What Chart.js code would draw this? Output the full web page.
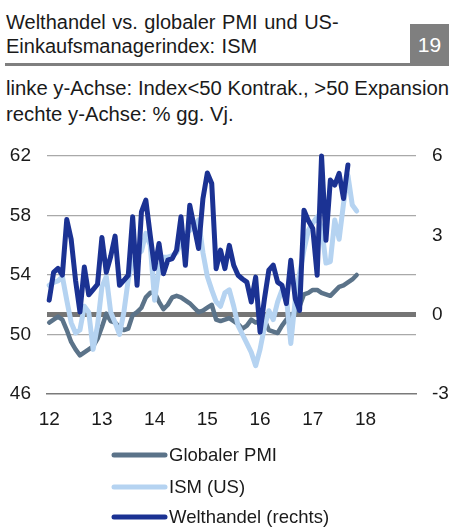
<!DOCTYPE html>
<html>
<head>
<meta charset="utf-8">
<script src="https://cdn.jsdelivr.net/npm/chart.js@4.4.1/dist/chart.umd.min.js"></script>
<style>
html,body{margin:0;padding:0;background:#fff;width:449px;height:528px;overflow:hidden;}
#wrap{position:relative;width:449px;height:528px;font-family:"Liberation Sans",Arial,sans-serif;color:#1a1a1a;}
.t{position:absolute;left:6px;white-space:nowrap;line-height:1;}
.title{font-size:20px;word-spacing:1px;}
.sub{font-size:20.3px;}
#rule{position:absolute;left:5px;top:63px;width:405px;height:3px;background:#7f7f7f;}
#box{position:absolute;left:410px;top:24px;width:39px;height:42px;background:#7f7f7f;color:#fff;font-size:21px;line-height:42px;text-align:center;}
canvas{position:absolute;left:0;top:0;}
</style>
</head>
<body>
<div id="wrap">
  <div class="t title" style="top:11.5px">Welthandel vs. globaler PMI und US-</div>
  <div class="t title" style="top:35.5px">Einkaufsmanagerindex: ISM</div>
  <div id="rule"></div>
  <div id="box">19</div>
  <div class="t sub" style="top:78px">linke y-Achse: Index&lt;50 Kontrak., &gt;50 Expansion</div>
  <div class="t sub" style="top:104px">rechte y-Achse: % gg. Vj.</div>
  <canvas id="c" width="449" height="528"></canvas>
</div>
<script>
// Months since Jan 2012 (index 0 = Jan 2012)
const yearLabels = ["12","13","14","15","16","17","18"];
const yearTickIdx = [0,12,24,36,48,60,72];

const seriesNames = ["Globaler PMI","ISM (US)","Welthandel (rechts)"];

// Globaler PMI (left axis), Jan 2012 – Nov 2017
const globalPMI = [
  50.8,51.0,51.2,51.0,50.3,49.5,49.0,48.6,48.8,49.0,49.2,49.7,
  50.5,51.4,50.9,50.8,50.5,50.3,50.4,51.3,51.5,51.8,52.5,52.8,
  52.8,52.2,51.7,52.0,52.5,52.6,52.5,52.3,52.1,51.8,51.5,51.6,
  51.8,52.0,51.0,50.9,51.0,51.1,50.9,50.7,50.4,50.6,51.0,50.8,
  50.9,51.0,50.3,50.2,50.1,50.6,51.0,51.3,51.5,51.9,52.7,52.8,
  53.0,53.0,52.8,52.7,52.6,52.9,53.2,53.3,53.5,53.7,54.0
];

// ISM (US) (left axis), Jan 2012 – Nov 2017
const ismUS = [
  53.3,53.5,53.6,53.9,52.3,50.8,50.1,50.3,51.9,51.5,49.0,50.6,
  53.2,53.9,51.5,50.8,50.0,51.5,53.7,55.0,55.4,55.6,56.8,56.0,
  52.3,54.5,55.2,55.2,55.3,55.5,56.2,56.8,57.0,57.25,57.7,55.5,
  53.9,53.0,52.2,51.9,52.8,53.0,51.9,50.6,50.0,49.4,48.8,47.9,
  49.0,50.5,51.6,51.0,52.2,53.0,52.5,49.4,52.3,54.1,55.7,57.0,
  57.5,57.9,57.2,54.8,54.9,57.7,56.4,58.8,60.7,58.7,58.3
];

// Welthandel % gg. Vj. (right axis), Jan 2012 – Sep 2017
const welthandel = [
  0.55,1.6,1.75,1.5,3.6,2.85,1.3,0.1,1.8,0.75,0.95,1.15,
  2.92,1.6,2.2,2.97,1.11,1.3,1.49,3.7,1.11,3.89,4.33,3.0,
  1.74,2.69,1.55,2.06,2.12,2.44,3.7,1.87,4.14,3.32,2.5,4.39,
  5.36,4.96,1.74,2.44,1.74,2.62,1.87,1.49,1.35,1.23,0.48,1.42,
  -0.66,0.6,1.68,1.87,1.23,1.11,0.42,2.06,0.61,0.16,3.95,3.55,
  3.26,1.49,6.0,2.81,5.09,4.9,5.34,4.39,5.66
];

const colors = ["#5b7389","#b5d3f1","#1b3293"];

const toXY = arr => arr.map((v,i)=>({x:i,y:v}));

const legendPlugin = {
  id:'stackedLegend',
  afterDraw(chart){
    const ctx = chart.ctx;
    const ds = chart.data.datasets;
    const rowsY = [455,487,517];
    ctx.save();
    [0,1,2].forEach((di,k)=>{
      const d = ds[di];
      const y = rowsY[k];
      ctx.strokeStyle = d.borderColor;
      ctx.lineWidth = 5;
      ctx.lineCap = 'round';
      ctx.beginPath();
      ctx.moveTo(114,y);
      ctx.lineTo(165,y);
      ctx.stroke();
      ctx.fillStyle = '#1a1a1a';
      ctx.font = '18.5px "Liberation Sans", Arial, sans-serif';
      ctx.textBaseline = 'middle';
      ctx.textAlign = 'left';
      ctx.fillText(d.label,169,y+1);
    });
    ctx.restore();
  }
};

const tickFont = {family:'"Liberation Sans", Arial, sans-serif', size:19};

new Chart(document.getElementById('c'),{
  type:'line',
  data:{
    datasets:[
      {label:seriesNames[0],data:toXY(globalPMI),yAxisID:'yL',borderColor:colors[0],backgroundColor:colors[0],borderWidth:4.5,order:2},
      {label:seriesNames[1],data:toXY(ismUS),yAxisID:'yL',borderColor:colors[1],backgroundColor:colors[1],borderWidth:5,order:1},
      {label:seriesNames[2],data:toXY(welthandel),yAxisID:'yR',borderColor:colors[2],backgroundColor:colors[2],borderWidth:5,order:0}
    ]
  },
  options:{
    responsive:false,
    animation:false,
    devicePixelRatio:1,
    layout:{padding:{top:156,left:0,right:0,bottom:94}},
    elements:{
      point:{radius:0,hoverRadius:0},
      line:{tension:0,borderJoinStyle:'round',borderCapStyle:'round'}
    },
    datasets:{line:{clip:8}},
    plugins:{legend:{display:false},tooltip:{enabled:false}},
    scales:{
      x:{
        type:'linear',min:-0.5,max:83.5,
        afterBuildTicks(scale){scale.ticks = yearTickIdx.map(v=>({value:v}));},
        afterFit(scale){scale.height = 40;},
        ticks:{autoSkip:false,maxRotation:0,padding:14,color:'#1a1a1a',font:tickFont,
          callback(v){const i = yearTickIdx.indexOf(v); return i>=0 ? yearLabels[i] : '';}},
        grid:{display:false,drawTicks:false},
        border:{display:true,color:'#7a7a7a',width:1.5}
      },
      yL:{
        position:'left',min:46,max:62,
        afterFit(scale){scale.width = 47;},
        ticks:{stepSize:4,padding:16,color:'#1a1a1a',font:tickFont},
        grid:{drawTicks:false,color:ctx=>ctx.tick.value===46?'rgba(0,0,0,0)':'#a9a9a9',lineWidth:1.2},
        border:{display:false}
      },
      yR:{
        position:'right',min:-3,max:6,
        afterFit(scale){scale.width = 33;},
        ticks:{stepSize:3,padding:16,color:'#1a1a1a',font:tickFont},
        grid:{drawTicks:false,color:ctx=>ctx.tick.value===0?'#757575':'rgba(0,0,0,0)',lineWidth:ctx=>ctx.tick.value===0?5:1},
        border:{display:false}
      }
    }
  },
  plugins:[legendPlugin]
});
</script>
</body>
</html>
